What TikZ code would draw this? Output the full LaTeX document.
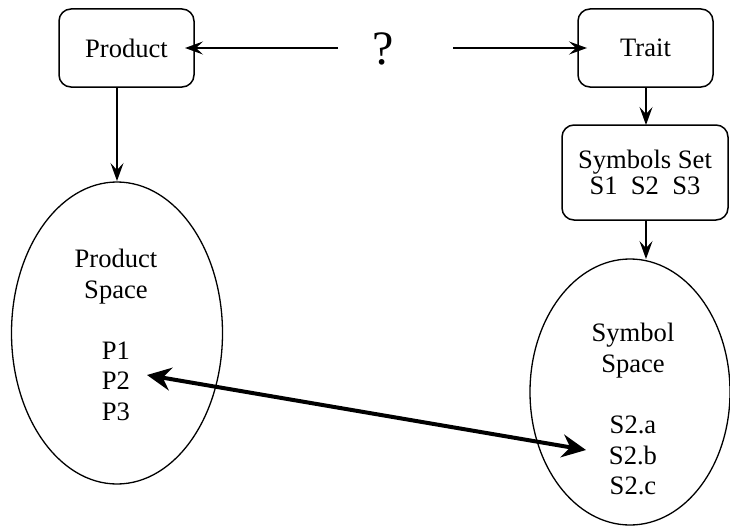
\documentclass[tikz,border=0pt]{standalone}
\usepackage{fontspec}
\setmainfont{Liberation Serif}
\usetikzlibrary{shapes.geometric,arrows.meta}
\begin{document}
\begin{tikzpicture}[x=1pt,y=-1pt,
  every node/.style={font=\fontsize{26.6}{30.5}\selectfont},
  boxnode/.style={draw,line width=1.5pt,rounded corners=12pt,inner sep=0pt,align=center},
  spacenode/.style={draw,ellipse,line width=1.3pt,inner sep=0pt},
  thinarrow/.style={line width=1.4pt,-{Stealth[length=18pt,width=13pt,inset=7pt]}},
  thickarrow/.style={line width=4pt,{Stealth[length=24pt,width=23pt,inset=8pt]}-{Stealth[length=24pt,width=23pt,inset=8pt]}}]
\useasboundingbox (0,0) rectangle (730,527);
% boxes
\node[boxnode,minimum width=135pt,minimum height=78pt] (product) at (126.5,48) {Product};
\node[boxnode,minimum width=135pt,minimum height=78pt] (trait) at (645.5,48) {Trait};
\node[boxnode,minimum width=166pt,minimum height=95pt,
  font=\fontsize{26.6}{26}\selectfont] (symset) at (645,172.5) {Symbols Set\\S1~~S2~~S3};
% ellipses
\node[spacenode,minimum width=211pt,minimum height=302pt] (pspace) at (117,333) {};
\node[spacenode,minimum width=200pt,minimum height=266pt] (sspace) at (630,392) {};
\node[align=center,inner sep=0pt] (ptext) at (116,335) {Product\\Space\\[30.5pt]P1\\P2\\P3};
\node[align=center,inner sep=0pt] (stext) at (633,409) {Symbol\\Space\\[31pt]S2.a\\S2.b\\S2.c};
% question mark
\node[inner sep=0pt,font=\fontsize{48}{50}\selectfont] (q) at (383,48.5) {?};
% coordinates
\coordinate (qleft) at (338,48);
\coordinate (qright) at (453,48);
\coordinate (ptip) at (185,48);
\coordinate (ttip) at (587,48);
\coordinate (pbot) at (117,87);
\coordinate (ptop) at (117,181);
\coordinate (tbot) at (646,87);
\coordinate (stop) at (646,125);
\coordinate (sbot) at (646,220);
\coordinate (etop) at (646,259);
\coordinate (p2) at (147,375);
\coordinate (s2b) at (586,450);
% connectors
\draw[thinarrow] (qleft) -- (ptip);
\draw[thinarrow] (qright) -- (ttip);
\draw[thinarrow] (pbot) -- (ptop);
\draw[thinarrow] (tbot) -- (stop);
\draw[thinarrow] (sbot) -- (etop);
\draw[thickarrow] (p2) -- (s2b);
\end{tikzpicture}
\end{document}
